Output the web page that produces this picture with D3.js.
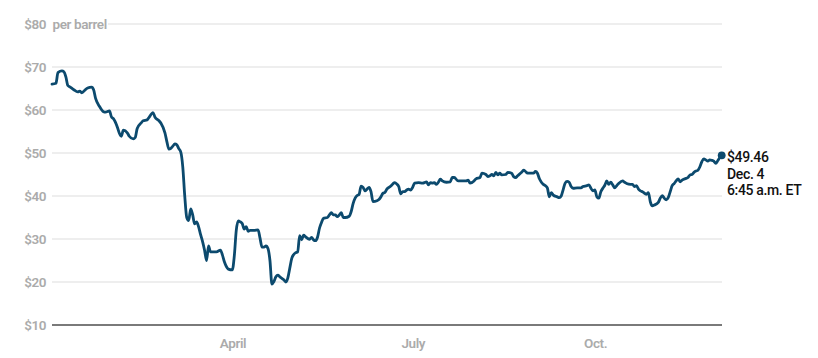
<!DOCTYPE html>
<html>
<head>
<meta charset="utf-8">
<script src="https://cdn.jsdelivr.net/npm/d3@7"></script>
<style>
  html, body { margin: 0; padding: 0; background: #fff; }
  svg { display: block; font-family: Roboto, "Noto Sans", sans-serif; }
</style>
</head>
<body>
<svg id="chart" width="818" height="358"></svg>
<script>
// Brent crude oil price, 2020 (day of year offset from Jan 1, 2020)
const dayOfYear = [
  0,2,3,5,6,7,8,9,11,13,14,15,17,18,20,21,22,24,26,27,29,30,31,33,34,35,36,38,39,41,42,43,45,46,48,49,
  51,52,54,55,57,58,59,60,61,62,63,64,65,66,67,68,69,70,71,72,73,74,75,76,77,78,79,80,81,83,85,86,87,88,89,
  91,92,93,94,95,96,97,98,99,100,102,104,105,106,107,108,109,110,111,112,113,114,115,117,118,119,120,121,
  122,123,124,125,126,127,128,130,131,132,133,134,135,136,137,139,140,141,142,143,144,145,146,147,148,150,
  151,152,153,154,155,156,157,158,159,160,161,162,164,165,166,167,168,169,171,172,173,174,175,176,177,178,
  179,180,181,182,183,185,187,188,189,190,191,192,193,194,195,196,197,199,201,202,203,205,207,209,210,211,
  213,214,216,217,219,220,221,222,223,224,225,226,227,229,230,232,233,234,235,237,238,239,240,241,243,244,
  245,246,247,248,249,250,251,252,253,255,256,257,258,259,260,261,262,263,265,267,268,270,271,272,273,274,
  275,276,277,278,279,280,281,282,283,284,285,286,288,289,290,292,293,294,295,296,297,298,300,301,302,303,
  304,306,307,308,309,310,311,312,313,314,315,316,317,318,320,321,322,323,324,325,326,327,328,329,330,331,
  332,333,334,335,336,337,338
];
const pricePerBarrel = [
  66.0,66.2,68.7,69.1,68.9,67.7,65.7,65.4,64.7,64.2,64.4,64.0,64.8,65.1,65.3,64.7,62.7,60.8,59.6,59.5,59.8,58.4,58.0,56.0,54.6,53.9,55.3,54.7,53.9,53.3,53.6,55.7,57.0,57.5,57.7,58.3,
  59.4,58.3,57.5,56.9,54.7,52.6,50.9,51.1,51.6,52.1,51.9,51.0,50.2,46.8,40.0,35.0,34.3,37.0,35.6,33.5,34.0,32.8,31.0,29.4,27.4,25.0,28.4,27.0,27.0,27.0,27.4,26.3,24.7,23.6,23.0,
  22.8,26.0,32.0,34.2,34.0,33.6,32.3,32.9,31.8,32.0,32.0,32.1,30.2,28.1,28.1,28.4,27.8,25.0,19.5,20.1,21.2,21.6,21.2,20.5,20.0,20.9,23.2,25.5,
  26.4,26.8,27.0,30.8,29.8,30.9,30.5,29.9,30.4,29.8,29.6,30.4,32.5,33.8,34.8,35.0,35.6,36.1,35.6,35.6,35.2,35.6,36.1,35.0,35.0,35.3,
  36.4,38.3,39.5,40.1,40.4,42.3,42.0,41.2,41.6,42.0,41.0,38.7,38.9,39.2,39.8,40.6,40.8,41.6,42.3,42.8,43.1,42.8,42.2,40.5,41.0,41.0,
  41.4,41.6,41.4,42.0,43.0,43.1,43.0,43.1,43.3,42.6,43.1,43.0,43.1,42.7,43.2,43.9,43.5,43.2,43.3,44.3,44.3,43.5,43.5,43.5,43.7,43.0,
  43.5,44.0,44.3,45.3,45.0,44.5,44.7,45.0,44.7,45.5,44.9,45.3,44.9,45.0,45.5,45.3,44.5,44.3,44.7,45.5,46.0,45.7,45.3,45.3,45.3,45.7,
  45.3,44.0,43.2,42.7,42.4,41.9,39.8,40.8,40.2,39.8,39.6,40.0,41.5,43.0,43.4,43.2,42.2,41.8,41.9,41.9,42.2,42.4,42.6,41.8,41.2,41.4,
  39.8,39.5,41.0,41.8,42.5,43.5,42.7,43.2,42.6,41.9,42.4,42.9,43.5,43.2,42.9,42.7,42.7,42.2,42.4,41.6,41.2,41.0,40.4,40.8,38.6,37.7,
  37.9,38.5,39.5,40.1,39.5,39.1,39.6,41.0,42.4,42.9,43.5,44.0,43.3,43.7,44.1,44.3,44.9,45.0,45.5,45.8,46.0,46.8,48.0,48.6,48.4,48.1,
  48.4,48.3,48.1,47.6,48.2,48.9,49.46
];
const yTicks = [10, 20, 30, 40, 50, 60, 70, 80];
const xTickDates = ["2020-04-01", "2020-07-01", "2020-10-01"];
const xTickLabels = ["April", "July", "Oct."];
const unitLabel = "per barrel";
const endLabelLines = ["$49.46", "Dec. 4", "6:45 a.m. ET"];

const startDate = new Date(2020, 0, 1);
const endDate = new Date(2020, 11, 4);
const data = dayOfYear.map((d, i) => ({ date: d3.timeDay.offset(startDate, d), value: pricePerBarrel[i] }));

const svg = d3.select("#chart");
const plotLeft = 52, plotRight = 721.7, plotTop = 24, plotBottom = 325;

const x = d3.scaleTime().domain([startDate, endDate]).range([plotLeft, plotRight]);
const y = d3.scaleLinear().domain([10, 80]).range([plotBottom, plotTop]);

// gridlines
svg.append("g").selectAll("line").data(yTicks.filter(t => t > 10)).join("line")
  .attr("x1", t => t === 80 ? 108 : plotLeft)
  .attr("x2", 722)
  .attr("y1", t => y(t)).attr("y2", t => y(t))
  .attr("stroke", "#e9e9e9").attr("stroke-width", 1.6);

// y labels
svg.append("g").selectAll("text").data(yTicks).join("text")
  .attr("x", 46).attr("y", t => y(t))
  .attr("text-anchor", "end").attr("dominant-baseline", "central")
  .attr("fill", "#ababab").attr("font-size", 13.5).attr("font-weight", 600)
  .attr("letter-spacing", "-0.5px")
  .text(t => "$" + t);

svg.append("text")
  .attr("x", 52.5).attr("y", y(80))
  .attr("dominant-baseline", "central")
  .attr("fill", "#ababab").attr("font-size", 13.5).attr("font-weight", 600)
  .attr("letter-spacing", "-0.4px")
  .text(unitLabel);

// baseline axis
svg.append("line")
  .attr("x1", plotLeft).attr("x2", 722)
  .attr("y1", y(10)).attr("y2", y(10))
  .attr("stroke", "#7a7a7a").attr("stroke-width", 2);

// x labels
const parse = d3.timeParse("%Y-%m-%d");
svg.append("g").selectAll("text").data(xTickDates).join("text")
  .attr("x", d => x(parse(d)) + 0.7).attr("y", 342.5)
  .attr("text-anchor", "middle").attr("dominant-baseline", "central")
  .attr("fill", "#ababab").attr("font-size", 13.5).attr("font-weight", 600)
  .attr("letter-spacing", "-0.4px")
  .text((d, i) => xTickLabels[i]);

// line
const line = d3.line().x(d => x(d.date)).y(d => y(d.value)).curve(d3.curveMonotoneX);
svg.append("path").datum(data)
  .attr("d", line)
  .attr("fill", "none").attr("stroke", "#0c4a6e").attr("stroke-width", 2.8)
  .attr("stroke-linejoin", "round").attr("stroke-linecap", "round");

// end dot and label
const last = data[data.length - 1];
svg.append("circle")
  .attr("cx", x(last.date)).attr("cy", y(last.value)).attr("r", 3.9)
  .attr("fill", "#0c4a6e");

svg.append("g").selectAll("text").data(endLabelLines).join("text")
  .attr("x", 727).attr("y", (d, i) => 157 + i * 16.5)
  .attr("dominant-baseline", "central")
  .attr("fill", "#111").attr("font-size", 14).attr("font-weight", 500)
  .attr("letter-spacing", "-0.35px")
  .text(d => d);
</script>
</body>
</html>
